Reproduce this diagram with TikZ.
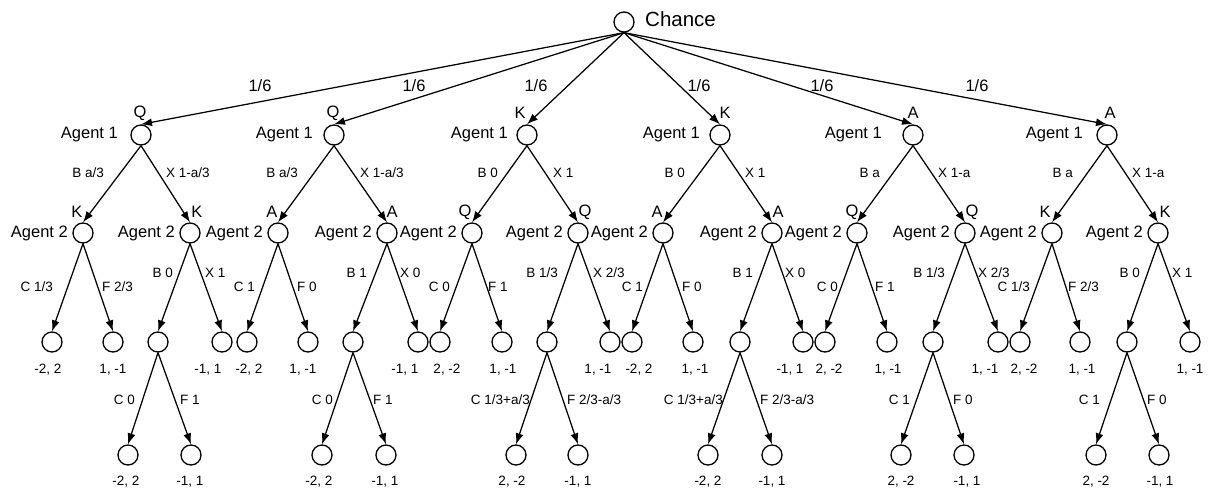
\documentclass[tikz,border=0pt]{standalone}
\usepackage{fontspec}
\setmainfont{Liberation Sans}
\usetikzlibrary{arrows.meta}
\tikzset{
 st/.style={circle, draw, line width=1.3pt, minimum size=20pt, inner sep=0pt},
 arr/.style={-{Latex[length=11pt,width=8pt]}, line width=1.25pt},
 big/.style={font=\fontsize{16.5}{18}\selectfont, inner sep=0pt},
 sm/.style={font=\fontsize{13.5}{15}\selectfont, inner sep=0pt},
 ttl/.style={font=\fontsize{20.5}{22}\selectfont, inner sep=0pt},
}
\begin{document}
\begin{tikzpicture}[x=1pt,y=-1pt]
\useasboundingbox (0,0) rectangle (1208,492);
\node[st] (c) at (624,22) {};
\node[ttl, anchor=west] (ct) at (645,19) {Chance};
% ---------- tree 1
\node[st] (a1) at (141,135) {};
\node[big, anchor=east] (a1t) at (118,135) {Agent 1};
\node[big] (a1c) at (140,113) {Q};
\node[big] (p1) at (260,86) {1/6};
\node[st] (l1) at (83,233) {}; \node[st] (r1) at (190,233) {};
\node[big,anchor=east] (l1t) at (68,233) {Agent 2}; \node[big,anchor=east] (r1t) at (175,233) {Agent 2};
\node[big] (l1c) at (77,212) {K}; \node[big] (r1c) at (197,212) {K};
\node[sm,anchor=east] (e1a) at (104,173) {B a/3}; \node[sm,anchor=west] (e1b) at (166,173) {X 1-a/3};
\node[st] (l1a) at (52,342) {}; \node[st] (l1b) at (113,342) {};
\node[st] (r1a) at (158,342) {}; \node[st] (r1b) at (222,342) {};
\node[sm,anchor=east] (f1a) at (53,287) {C 1/3}; \node[sm,anchor=west] (f1b) at (102,287) {F 2/3};
\node[sm,anchor=east] (g1a) at (173,273) {B 0}; \node[sm,anchor=west] (g1b) at (205,273) {X 1};
\node[sm] (v1a) at (48,370) {-2, 2}; \node[sm] (v1b) at (113,370) {1, -1}; \node[sm] (v1c) at (208,370) {-1, 1};
\node[st] (d1a) at (128,455) {}; \node[st] (d1b) at (191,455) {};
\node[sm,anchor=east] (h1a) at (135,400) {C 0}; \node[sm,anchor=west] (h1b) at (180,400) {F 1};
\node[sm] (w1a) at (126,482) {-2, 2}; \node[sm] (w1b) at (190,482) {-1, 1};
% ---------- tree 2
\node[st] (a2) at (334,135) {};
\node[big, anchor=east] (a2t) at (313,135) {Agent 1};
\node[big] (a2c) at (333,113) {Q};
\node[big] (p2) at (414,86) {1/6};
\node[st] (l2) at (278,233) {}; \node[st] (r2) at (387,233) {};
\node[big,anchor=east] (l2t) at (263,233) {Agent 2}; \node[big,anchor=east] (r2t) at (372,233) {Agent 2};
\node[big] (l2c) at (272,212) {A}; \node[big] (r2c) at (392,212) {A};
\node[sm,anchor=east] (e2a) at (298,173) {B a/3}; \node[sm,anchor=west] (e2b) at (360,173) {X 1-a/3};
\node[st] (l2a) at (247,342) {}; \node[st] (l2b) at (308,342) {};
\node[st] (r2a) at (353,342) {}; \node[st] (r2b) at (418,342) {};
\node[sm,anchor=east] (f2a) at (255,287) {C 1}; \node[sm,anchor=west] (f2b) at (297,287) {F 0};
\node[sm,anchor=east] (g2a) at (367,273) {B 1}; \node[sm,anchor=west] (g2b) at (400,273) {X 0};
\node[sm] (v2a) at (249,370) {-2, 2}; \node[sm] (v2b) at (303,370) {1, -1}; \node[sm] (v2c) at (405,370) {-1, 1};
\node[st] (d2a) at (322,455) {}; \node[st] (d2b) at (386,455) {};
\node[sm,anchor=east] (h2a) at (333,400) {C 0}; \node[sm,anchor=west] (h2b) at (373,400) {F 1};
\node[sm] (w2a) at (319,482) {-2, 2}; \node[sm] (w2b) at (385,482) {-1, 1};
% ---------- tree 3
\node[st] (a3) at (527,135) {};
\node[big, anchor=east] (a3t) at (508,135) {Agent 1};
\node[big] (a3c) at (520,113) {K};
\node[big] (p3) at (536,86) {1/6};
\node[st] (l3) at (472,233) {}; \node[st] (r3) at (578,233) {};
\node[big,anchor=east] (l3t) at (457,233) {Agent 2}; \node[big,anchor=east] (r3t) at (563,233) {Agent 2};
\node[big] (l3c) at (465,212) {Q}; \node[big] (r3c) at (585,212) {Q};
\node[sm,anchor=east] (e3a) at (498,173) {B 0}; \node[sm,anchor=west] (e3b) at (553,173) {X 1};
\node[st] (l3a) at (440,342) {}; \node[st] (l3b) at (502,342) {};
\node[st] (r3a) at (547,342) {}; \node[st] (r3b) at (610,342) {};
\node[sm,anchor=east] (f3a) at (450,287) {C 0}; \node[sm,anchor=west] (f3b) at (488,287) {F 1};
\node[sm,anchor=east] (g3a) at (558,273) {B 1/3}; \node[sm,anchor=west] (g3b) at (593,273) {X 2/3};
\node[sm] (v3a) at (447,370) {2, -2}; \node[sm] (v3b) at (503,370) {1, -1}; \node[sm] (v3c) at (598,370) {1, -1};
\node[st] (d3a) at (516,455) {}; \node[st] (d3b) at (578,455) {};
\node[sm,anchor=east] (h3a) at (530,400) {C 1/3+a/3}; \node[sm,anchor=west] (h3b) at (567,400) {F 2/3-a/3};
\node[sm] (w3a) at (512,482) {2, -2}; \node[sm] (w3b) at (578,482) {-1, 1};
% ---------- tree 4
\node[st] (a4) at (720,135) {};
\node[big, anchor=east] (a4t) at (700,135) {Agent 1};
\node[big] (a4c) at (725,113) {K};
\node[big] (p4) at (699,86) {1/6};
\node[st] (l4) at (663,233) {}; \node[st] (r4) at (772,233) {};
\node[big,anchor=east] (l4t) at (648,233) {Agent 2}; \node[big,anchor=east] (r4t) at (757,233) {Agent 2};
\node[big] (l4c) at (657,212) {A}; \node[big] (r4c) at (778,212) {A};
\node[sm,anchor=east] (e4a) at (685,173) {B 0}; \node[sm,anchor=west] (e4b) at (745,173) {X 1};
\node[st] (l4a) at (632,342) {}; \node[st] (l4b) at (693,342) {};
\node[st] (r4a) at (740,342) {}; \node[st] (r4b) at (803,342) {};
\node[sm,anchor=east] (f4a) at (643,287) {C 1}; \node[sm,anchor=west] (f4b) at (682,287) {F 0};
\node[sm,anchor=east] (g4a) at (753,273) {B 1}; \node[sm,anchor=west] (g4b) at (785,273) {X 0};
\node[sm] (v4a) at (639,370) {-2, 2}; \node[sm] (v4b) at (695,370) {1, -1}; \node[sm] (v4c) at (790,370) {-1, 1};
\node[st] (d4a) at (708,455) {}; \node[st] (d4b) at (772,455) {};
\node[sm,anchor=east] (h4a) at (723,400) {C 1/3+a/3}; \node[sm,anchor=west] (h4b) at (760,400) {F 2/3-a/3};
\node[sm] (w4a) at (708,482) {-2, 2}; \node[sm] (w4b) at (772,482) {-1, 1};
% ---------- tree 5
\node[st] (a5) at (913,135) {};
\node[big, anchor=east] (a5t) at (882,135) {Agent 1};
\node[big] (a5c) at (913,113) {A};
\node[big] (p5) at (822,86) {1/6};
\node[st] (l5) at (857,233) {}; \node[st] (r5) at (965,233) {};
\node[big,anchor=east] (l5t) at (842,233) {Agent 2}; \node[big,anchor=east] (r5t) at (950,233) {Agent 2};
\node[big] (l5c) at (852,212) {Q}; \node[big] (r5c) at (972,212) {Q};
\node[sm,anchor=east] (e5a) at (880,173) {B a}; \node[sm,anchor=west] (e5b) at (938,173) {X 1-a};
\node[st] (l5a) at (825,342) {}; \node[st] (l5b) at (887,342) {};
\node[st] (r5a) at (933,342) {}; \node[st] (r5b) at (998,342) {};
\node[sm,anchor=east] (f5a) at (838,287) {C 0}; \node[sm,anchor=west] (f5b) at (875,287) {F 1};
\node[sm,anchor=east] (g5a) at (945,273) {B 1/3}; \node[sm,anchor=west] (g5b) at (978,273) {X 2/3};
\node[sm] (v5a) at (829,370) {2, -2}; \node[sm] (v5b) at (888,370) {1, -1}; \node[sm] (v5c) at (985,370) {1, -1};
\node[st] (d5a) at (901,455) {}; \node[st] (d5b) at (964,455) {};
\node[sm,anchor=east] (h5a) at (910,400) {C 1}; \node[sm,anchor=west] (h5b) at (953,400) {F 0};
\node[sm] (w5a) at (901,482) {2, -2}; \node[sm] (w5b) at (967,482) {-1, 1};
% ---------- tree 6
\node[st] (a6) at (1107,135) {};
\node[big, anchor=east] (a6t) at (1083,135) {Agent 1};
\node[big] (a6c) at (1110,113) {A};
\node[big] (p6) at (977,86) {1/6};
\node[st] (l6) at (1052,233) {}; \node[st] (r6) at (1158,233) {};
\node[big,anchor=east] (l6t) at (1037,233) {Agent 2}; \node[big,anchor=east] (r6t) at (1143,233) {Agent 2};
\node[big] (l6c) at (1045,212) {K}; \node[big] (r6c) at (1165,212) {K};
\node[sm,anchor=east] (e6a) at (1073,173) {B a}; \node[sm,anchor=west] (e6b) at (1132,173) {X 1-a};
\node[st] (l6a) at (1020,342) {}; \node[st] (l6b) at (1080,342) {};
\node[st] (r6a) at (1127,342) {}; \node[st] (r6b) at (1190,342) {};
\node[sm,anchor=east] (f6a) at (1030,287) {C 1/3}; \node[sm,anchor=west] (f6b) at (1068,287) {F 2/3};
\node[sm,anchor=east] (g6a) at (1140,273) {B 0}; \node[sm,anchor=west] (g6b) at (1172,273) {X 1};
\node[sm] (v6a) at (1024,370) {2, -2}; \node[sm] (v6b) at (1082,370) {1, -1}; \node[sm] (v6c) at (1190,370) {1, -1};
\node[st] (d6a) at (1096,455) {}; \node[st] (d6b) at (1159,455) {};
\node[sm,anchor=east] (h6a) at (1100,400) {C 1}; \node[sm,anchor=west] (h6b) at (1147,400) {F 0};
\node[sm] (w6a) at (1096,482) {2, -2}; \node[sm] (w6b) at (1160,482) {-1, 1};
% ---------- connectors
\foreach \i in {1,...,6}{
  \draw[arr] (c.south) -- (a\i.north);
  \draw[arr] (a\i.south) -- (l\i.north);
  \draw[arr] (a\i.south) -- (r\i.north);
  \draw[arr] (l\i.south) -- (l\i a.north);
  \draw[arr] (l\i.south) -- (l\i b.north);
  \draw[arr] (r\i.south) -- (r\i a.north);
  \draw[arr] (r\i.south) -- (r\i b.north);
  \draw[arr] (r\i a.south) -- (d\i a.north);
  \draw[arr] (r\i a.south) -- (d\i b.north);
}
\end{tikzpicture}
\end{document}
